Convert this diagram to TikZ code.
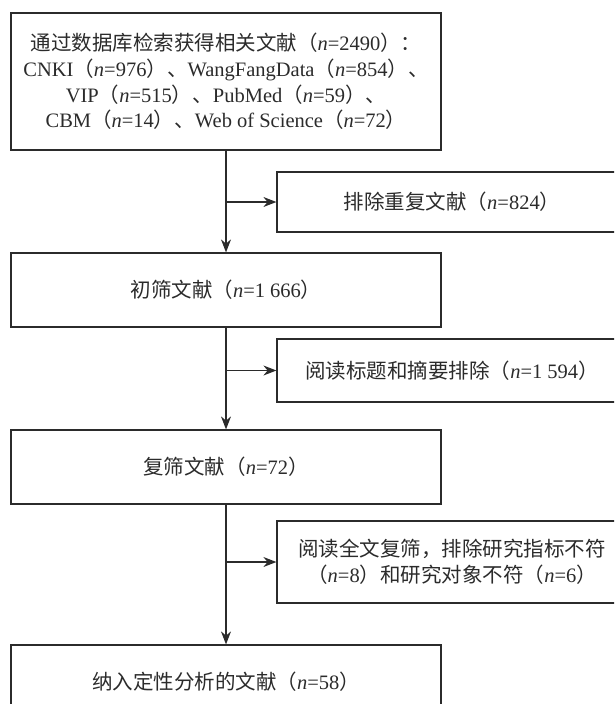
\documentclass[tikz,border=0pt]{standalone}
\usepackage{fontspec}
\setmainfont{Liberation Serif}
\newfontfamily\cjk{Noto Sans CJK SC}
\usetikzlibrary{arrows.meta}
\newcommand\zh[1]{{\cjk #1}}
\newcommand\nv[1]{\textit{n}=#1}
\definecolor{ink}{HTML}{2B2B2B}
\tikzset{
  box/.style={draw=ink, line width=1.2pt, rectangle, inner sep=0pt, align=center,
    text=ink, font=\fontsize{20.5}{25.7}\selectfont},
  mainbox/.style={box, minimum width=430pt},
  sidebox/.style={box, minimum width=350pt},
  flow/.style={draw=ink, line width=1.2pt, -{Stealth[length=13pt,width=10pt]}},
}
\begin{document}
\begin{tikzpicture}[x=1pt,y=-1pt]
\useasboundingbox (0,0) rectangle (614,704);
\clip (0,0) rectangle (614,704);
\node[mainbox, minimum height=137pt] (A) at (226,81.5) {%
\zh{通过数据库检索获得相关文献（}\nv{2490}\zh{）：}\\
CNKI\zh{（}\nv{976}\zh{）、}WangFangData\zh{（}\nv{854}\zh{）、}\\
VIP\zh{（}\nv{515}\zh{）、}PubMed\zh{（}\nv{59}\zh{）、}\\
CBM\zh{（}\nv{14}\zh{）、}Web of Science\zh{（}\nv{72}\zh{）}};
\node[sidebox, minimum height=60pt] (B) at (452,202) {\zh{排除重复文献（}\nv{824}\zh{）}};
\node[mainbox, minimum height=74pt] (C) at (226,290) {\zh{初筛文献（}\nv{1\hspace{0.25em}666}\zh{）}};
\node[sidebox, minimum height=63pt] (D) at (452,370.5) {\zh{阅读标题和摘要排除（}\nv{1\hspace{0.25em}594}\zh{）}};
\node[mainbox, minimum height=74pt] (E) at (226,467) {\zh{复筛文献（}\nv{72}\zh{）}};
\node[sidebox, minimum height=82pt] (F) at (452,562) {%
\zh{阅读全文复筛，排除研究指标不符}\\
\zh{（}\nv{8}\zh{）和研究对象不符（}\nv{6}\zh{）}};
\node[mainbox, minimum height=74pt] (G) at (226,682) {\zh{纳入定性分析的文献（}\nv{58}\zh{）}};
\coordinate (j1) at (A.south |- B.west);
\coordinate (j2) at (C.south |- D.west);
\coordinate (j3) at (E.south |- F.west);
\draw[flow] (A.south) -- (C.north);
\draw[flow] (j1) -- (B.west);
\draw[flow] (C.south) -- (E.north);
\draw[flow] (j2) -- (D.west);
\draw[flow] (E.south) -- (G.north);
\draw[flow] (j3) -- (F.west);
\end{tikzpicture}
\end{document}
